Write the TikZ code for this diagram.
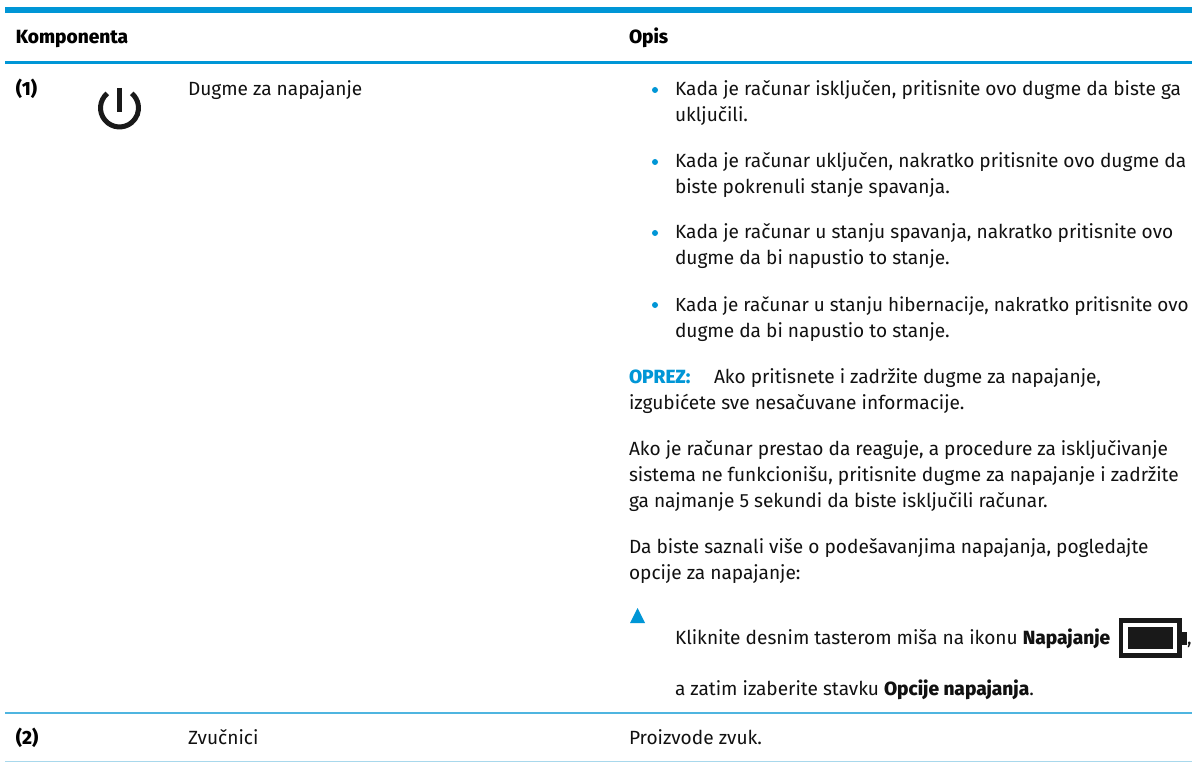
\documentclass[tikz,border=0pt]{standalone}
\usepackage{fontspec}
\setmainfont[BoldFont={Fira Sans ExtraBold}]{Fira Sans}
\definecolor{hpblue}{HTML}{0096D6}
\definecolor{rowblue}{HTML}{4FB5E0}
\definecolor{palerow}{HTML}{A8D8EC}
\definecolor{inktxt}{HTML}{111111}
\tikzset{
  txt/.style={anchor=base west,inner sep=0pt,outer sep=0pt,text=inktxt,font=\fontsize{19.1pt}{22pt}\selectfont},
  txtn/.style={txt,font=\fontsize{18.9pt}{22pt}\selectfont},
  hd/.style={anchor=base west,inner sep=0pt,outer sep=0pt,text=black,font=\fontsize{19.1pt}{22pt}\selectfont\bfseries},
}
\newcommand{\bul}[1]{\fill[hpblue] (655,#1) circle (3);}
\begin{document}
\begin{tikzpicture}[x=1pt,y=-1pt]
\useasboundingbox (0,0) rectangle (1192,762);
\fill[white] (0,0) rectangle (1192,762);
\fill[hpblue] (5,7) rectangle (1192,13);
\fill[hpblue] (5,61) rectangle (1192,64);
\fill[rowblue] (5,712) rectangle (1192,713.5);
\fill[palerow] (5,761) rectangle (1192,762);
\node[hd] (h1) at (16,44) {Komponenta};
\node[hd] (h2) at (629,44) {Opis};
\node[hd] (n1) at (16,96) {(1)};
\node[txt] (d1) at (188,96) {Dugme za napajanje};
\draw[line width=5pt,black!90] (119.5,88) -- (119.5,112);
\draw[line width=5pt,black!90] (107.3,93.4) arc[start angle=230,end angle=-50,radius=19];
\bul{90}\bul{162}\bul{233}\bul{305}
\node[txt] (a1) at (675,96) {Kada je računar isključen, pritisnite ovo dugme da biste ga};
\node[txt] (a2) at (675,122) {uključili.};
\node[txt] (b1) at (675,168) {Kada je računar uključen, nakratko pritisnite ovo dugme da};
\node[txt] (b2) at (675,194) {biste pokrenuli stanje spavanja.};
\node[txt] (c1) at (675,239) {Kada je računar u stanju spavanja, nakratko pritisnite ovo};
\node[txt] (c2) at (675,265) {dugme da bi napustio to stanje.};
\node[txtn] (e1) at (675,311) {Kada je računar u stanju hibernacije, nakratko pritisnite ovo};
\node[txt] (e2) at (675,337) {dugme da bi napustio to stanje.};
\node[hd,text=hpblue] (o0) at (629,383) {OPREZ:};
\node[txt] (o1) at (714,383) {Ako pritisnete i zadržite dugme za napajanje,};
\node[txt] (o2) at (629,409) {izgubićete sve nesačuvane informacije.};
\node[txt] (f1) at (629,455) {Ako je računar prestao da reaguje, a procedure za isključivanje};
\node[txt] (f2) at (629,481) {sistema ne funkcionišu, pritisnite dugme za napajanje i zadržite};
\node[txt] (f3) at (629,507) {ga najmanje 5 sekundi da biste isključili računar.};
\node[txt] (g1) at (629,553) {Da biste saznali više o podešavanjima napajanja, pogledajte};
\node[txt] (g2) at (629,579) {opcije za napajanje:};
\fill[hpblue] (630,623) -- (645,623) -- (637.5,608) -- cycle;
\node[txt] (k1) at (675,644) {Kliknite desnim tasterom miša na ikonu \textbf{Napajanje}};
\fill[black!90] (1119,618) rectangle (1182,658);
\fill[white] (1123,623) rectangle (1177,653);
\fill[black!90] (1128,627) rectangle (1173,649);
\fill[black!90] (1182,632) rectangle (1187,645);
\node[txt] (k2) at (1187,644) {,};
\node[txt] (k3) at (675,695) {a zatim izaberite stavku \textbf{Opcije napajanja}.};
\node[hd] (n2) at (16,744) {(2)};
\node[txt] (d2) at (188,744) {Zvučnici};
\node[txt] (p1) at (629,744) {Proizvode zvuk.};
\end{tikzpicture}
\end{document}
